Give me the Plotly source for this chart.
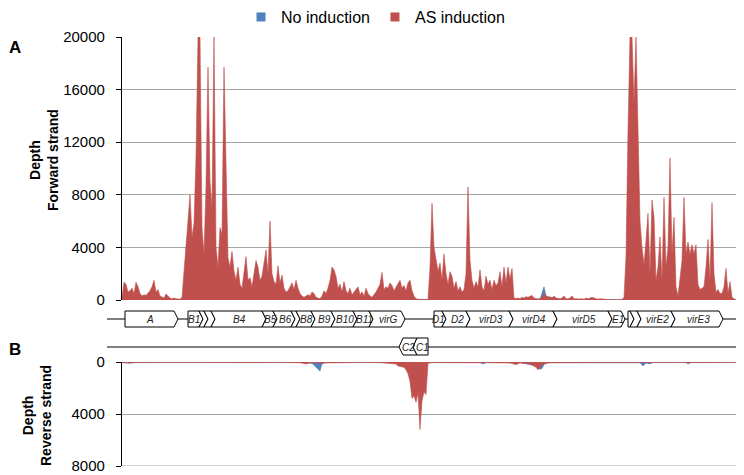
import plotly.graph_objects as go

# ---------------- data ----------------
# Forward strand, AS induction (regular grid of positions)
pos_fwd = list(range(122, 741, 2))
as_fwd = [
    200, 1350, 1200, 600, 700, 900, 500, 1350, 1000, 500,
    300, 400, 350, 500, 700, 1000, 1500, 600, 800, 300,
    200, 150, 450, 300, 150, 100, 150, 100, 80, 60,
    200, 2300, 4000, 6300, 8000, 4800, 5800, 10800, 20000, 20000,
    5500, 3500, 8600, 17700, 9000, 7000, 20000, 4000, 2500, 5500,
    5000, 17700, 11400, 3200, 2500, 3700, 2200, 1500, 2500, 1200,
    900, 2000, 3300, 1500, 1700, 1000, 2000, 3000, 2500, 1500,
    1800, 2800, 3800, 2000, 6000, 2000, 1400, 1200, 2600, 1300,
    1900, 900, 600, 700, 1000, 1300, 800, 1500, 900, 500,
    300, 200, 300, 400, 300, 600, 500, 200, 150, 100,
    300, 700, 500, 900, 1500, 2500, 2300, 1800, 900, 1200,
    600, 1400, 700, 500, 900, 400, 600, 800, 1000, 400,
    600, 300, 900, 500, 300, 200, 400, 600, 900, 1200,
    2100, 800, 1000, 900, 1300, 1100, 700, 1000, 1200, 1500,
    900, 1100, 700, 1300, 1500, 700, 300, 100, 50, 30,
    30, 30, 30, 50, 2500, 7350, 4000, 3000, 2200, 2800,
    1500, 3500, 2000, 1200, 2150, 1800, 900, 1400, 700, 1000,
    600, 800, 2000, 8600, 3000, 1500, 900, 1400, 1000, 2300,
    1000, 700, 1800, 1200, 1500, 800, 1500, 1100, 1300, 2150,
    1000, 2500, 1300, 2500, 1600, 2400, 150, 100, 150, 100,
    200, 150, 250, 200, 300, 350, 150, 100, 80, 100,
    200, 500, 300, 200, 250, 150, 300, 150, 100, 80,
    150, 300, 100, 80, 150, 300, 100, 80, 60, 80,
    100, 60, 150, 100, 150, 200, 150, 80, 60, 100,
    80, 40, 30, 20, 20, 20, 20, 20, 20, 20,
    30, 200, 3300, 12900, 20000, 20000, 15000, 20000, 12000, 6000,
    4000, 2700, 4500, 6600, 2000, 7600, 6300, 1500, 2500, 4800,
    1500, 7800, 2500, 4000, 10800, 3500, 6300, 1000, 300, 1500,
    3000, 7800, 3500, 4400, 3500, 4200, 3500, 4200, 1200, 800,
    900, 1000, 2500, 4600, 1500, 7400, 2000, 600, 800, 500,
    500, 1000, 2400, 500, 1400, 200, 100, 0, 0, 0,
]

# Forward strand, no induction
pos_fwd_no = [122, 126, 130, 140, 160, 183, 200, 220, 240, 260, 280, 300, 320, 330,
              340, 360, 380, 390, 396, 400, 404, 408, 412, 416, 430, 460, 500, 520,
              540, 544, 546, 550, 560, 580, 600, 620, 628, 636, 645, 680, 720, 726,
              730, 734, 740]
no_fwd = [200, 150, 50, 30, 30, 50, 80, 60, 50, 40, 40, 30, 30, 60,
          50, 40, 80, 150, 300, 450, 350, 500, 300, 50, 40, 40, 40, 30,
          60, 1000, 300, 200, 80, 40, 30, 20, 100, 120, 50, 40, 50, 200,
          150, 30, 0]

# Reverse strand, AS induction
pos_rev_as = [122, 130, 140, 160, 180, 200, 220, 240, 260, 280, 300, 306, 310, 320,
              340, 360, 380, 390, 396, 398, 400, 402, 404, 406, 408, 410, 412, 414,
              416, 418, 420, 422, 424, 426, 428, 432, 450, 470, 490, 510, 516, 520,
              530, 536, 538, 540, 542, 550, 570, 600, 620, 640, 660, 680, 700, 720, 740]
as_rev = [60, 40, 50, 40, 50, 40, 50, 40, 50, 40, 60, 150, 60, 80,
          50, 40, 50, 100, 150, 300, 350, 400, 400, 600, 900, 1500, 2800, 2600,
          3100, 2400, 5200, 3000, 2300, 2500, 100, 50, 40, 50, 60, 80, 200, 80,
          150, 400, 600, 450, 200, 60, 50, 40, 50, 60, 50, 40, 50, 40, 30]

# Reverse strand, no induction
pos_rev_no = [122, 130, 134, 160, 200, 250, 300, 312, 316, 318, 320, 322, 326, 380,
              420, 450, 480, 483, 486, 520, 536, 540, 542, 545, 600, 640, 643, 646,
              650, 653, 686, 688, 691, 740]
no_rev = [30, 100, 40, 20, 20, 20, 30, 100, 400, 600, 700, 150, 30, 20,
          30, 20, 40, 150, 30, 30, 300, 550, 500, 50, 20, 50, 300, 80,
          150, 30, 30, 150, 30, 20]

# Gene map (Ti plasmid vir region)
fwd_gene_names = ["A", "B1", "", "", "B4", "B5", "B6", "", "B8", "B9", "B10", "B11",
                  "virG", "D1", "D2", "virD3", "virD4", "virD5", "E1", "", "", "virE2", "virE3"]
fwd_gene_start = [125, 188, 203, 208, 215, 266, 277, 295, 300, 315, 335, 357,
                  373, 434, 446, 470, 513, 557, 612, 628, 634, 641, 675]
fwd_gene_end = [178, 203, 208, 215, 266, 277, 295, 300, 315, 335, 357, 373,
                405, 446, 470, 513, 557, 612, 625, 634, 641, 675, 723]
fwd_gene_notch = [False, False, True, True, True, True, True, True, True, True, True, True,
                  True, False, True, True, True, True, True, False, True, True, True]

rev_gene_names = ["C2", "C1"]
rev_gene_start = [399, 413]
rev_gene_end = [413, 428]
rev_gene_notch = [True, False]

tick_fwd = [0, 4000, 8000, 12000, 16000, 20000]
tick_fwd_text = ["0", "4000", "8000", "12000", "16000", "20000"]
tick_rev = [0, 4000, 8000]
tick_rev_text = ["0", "4000", "8000"]

RED = "#C0504D"
BLUE = "#4F81BD"
GRID = "#A6A6A6"
FONT = "Liberation Sans, Arial, sans-serif"

# page body has an 8px margin: the figure is sized/positioned to compensate
OFF = 8
W, H = 744 - OFF, 475 - OFF
def px(xpix):
    return (xpix - OFF) / W
def py(ypix):
    return 1 - (ypix - OFF) / H

fig = go.Figure()

# no-induction drawn behind AS induction
fig.add_trace(go.Scatter(x=pos_fwd_no, y=no_fwd, mode="lines", fill="tozeroy",
                         line=dict(color=BLUE, width=0.6), fillcolor=BLUE,
                         showlegend=False, xaxis="x", yaxis="y", hoverinfo="skip"))
fig.add_trace(go.Scatter(x=pos_fwd, y=as_fwd, mode="lines", fill="tozeroy",
                         line=dict(color=RED, width=0.6), fillcolor=RED,
                         showlegend=False, xaxis="x", yaxis="y", hoverinfo="skip"))
fig.add_trace(go.Scatter(x=pos_rev_no, y=no_rev, mode="lines", fill="tozeroy",
                         line=dict(color=BLUE, width=0.6), fillcolor=BLUE,
                         showlegend=False, xaxis="x2", yaxis="y2", hoverinfo="skip"))
fig.add_trace(go.Scatter(x=pos_rev_as, y=as_rev, mode="lines", fill="tozeroy",
                         line=dict(color=RED, width=0.6), fillcolor=RED,
                         showlegend=False, xaxis="x2", yaxis="y2", hoverinfo="skip"))

# legend entries
fig.add_trace(go.Scatter(x=[None], y=[None], mode="markers", name="No induction",
                         marker=dict(symbol="square", size=9, color=BLUE), legendrank=1))
fig.add_trace(go.Scatter(x=[None], y=[None], mode="markers", name="AS induction",
                         marker=dict(symbol="square", size=9, color=RED), legendrank=2))

xdom = [px(122), px(740)]
axis_common = dict(showgrid=True, gridcolor=GRID, gridwidth=1, zeroline=False,
                   showline=True, linecolor="black", linewidth=1.2, ticks="outside",
                   ticklen=5, tickcolor="black", tickfont=dict(size=15, family=FONT),
                   ticklabelstandoff=8, ticklabeloverflow="allow")
fig.update_layout(
    width=W, height=H,
    margin=dict(l=0, r=0, t=0, b=0, autoexpand=False),
    paper_bgcolor="white", plot_bgcolor="white",
    font=dict(family=FONT, color="black"),
    showlegend=True,
    legend=dict(orientation="h", x=px(241), xanchor="left", y=1.017, yanchor="top",
                font=dict(size=16, family=FONT), itemwidth=30, tracegroupgap=0,
                bgcolor="rgba(0,0,0,0)"),
    xaxis=dict(domain=xdom, range=[122, 740], visible=False, anchor="y"),
    xaxis2=dict(domain=xdom, range=[122, 740], visible=False, anchor="y2", matches="x"),
    yaxis=dict(domain=[py(300), py(37)], range=[0, 20000], tickvals=tick_fwd,
               ticktext=tick_fwd_text, anchor="x", **axis_common),
    yaxis2=dict(domain=[py(466), py(362)], range=[8000, 0], tickvals=tick_rev,
                ticktext=tick_rev_text, anchor="x2", **axis_common),
)

shapes = []
annotations = []

# bottom gridline of the reverse-strand panel (at the last tick)
shapes.append(dict(type="line", xref="x2 domain", yref="y2", x0=0, x1=1,
                   y0=tick_rev[-1], y1=tick_rev[-1], line=dict(color=GRID, width=1),
                   layer="below"))

# strand lines
for ymid in (319, 347):
    shapes.append(dict(type="line", xref="paper", yref="paper", x0=px(107), x1=px(740),
                       y0=py(ymid), y1=py(ymid), line=dict(color="black", width=1.2)))

T = 4  # arrow tip width (position units)
ftop, fmid, fbot = py(311), py(319), py(327)
for name, s, e, notch in zip(fwd_gene_names, fwd_gene_start, fwd_gene_end, fwd_gene_notch):
    left = s - T if notch else s
    path = f"M {left},{ftop} L {e - T},{ftop} L {e},{fmid} L {e - T},{fbot} L {left},{fbot}"
    if notch:
        path += f" L {s},{fmid}"
    path += " Z"
    shapes.append(dict(type="path", xref="x", yref="paper", path=path,
                       fillcolor="white", line=dict(color="black", width=1)))
    if name:
        annotations.append(dict(xref="x", yref="paper", x=(s + e - T) / 2 + (1 if notch else 0),
                                y=fmid, xanchor="center", yanchor="middle",
                                text=f"<i>{name}</i>", showarrow=False,
                                font=dict(size=10, family=FONT, color="#222")))

rtop, rmid, rbot = py(338), py(347), py(355)
for name, s, e, notch in zip(rev_gene_names, rev_gene_start, rev_gene_end, rev_gene_notch):
    right = e + T if notch else e
    path = f"M {s},{rmid} L {s + T},{rtop} L {right},{rtop}"
    if notch:
        path += f" L {e},{rmid}"
    path += f" L {right},{rbot} L {s + T},{rbot} Z"
    shapes.append(dict(type="path", xref="x", yref="paper", path=path,
                       fillcolor="white", line=dict(color="black", width=1)))
    annotations.append(dict(xref="x", yref="paper", x=(s + e + T) / 2, y=rmid,
                            xanchor="center", yanchor="middle",
                            text=f"<i>{name}</i>", showarrow=False,
                            font=dict(size=10, family=FONT, color="#222")))

# panel letters
annotations.append(dict(xref="paper", yref="paper", x=px(15), y=py(48), text="<b>A</b>",
                        xanchor="center", yanchor="middle",
                        showarrow=False, font=dict(size=17, family=FONT)))
annotations.append(dict(xref="paper", yref="paper", x=px(15), y=py(349), text="<b>B</b>",
                        xanchor="center", yanchor="middle",
                        showarrow=False, font=dict(size=17, family=FONT)))
# y axis titles
annotations.append(dict(xref="paper", yref="paper", x=px(44), y=py(160),
                        xanchor="center", yanchor="middle",
                        text="<b>Depth<br>Forward strand</b>", textangle=-90, showarrow=False,
                        font=dict(size=14, family=FONT)))
annotations.append(dict(xref="paper", yref="paper", x=px(37), y=py(416),
                        xanchor="center", yanchor="middle",
                        text="<b>Depth<br>Reverse strand</b>", textangle=-90, showarrow=False,
                        font=dict(size=14, family=FONT)))

fig.update_layout(shapes=shapes, annotations=annotations)
fig.write_html("out.html")
